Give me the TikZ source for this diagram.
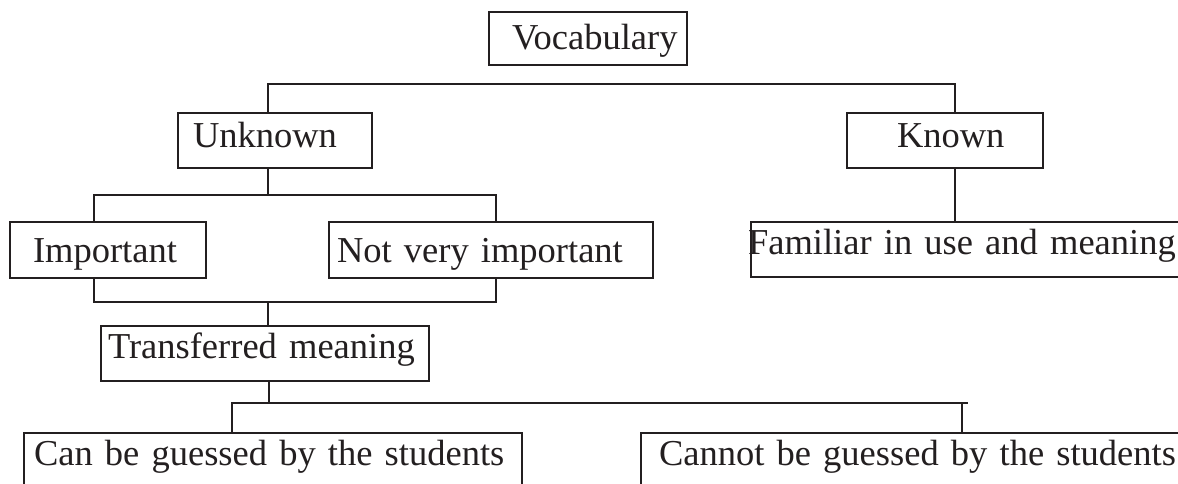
\documentclass[tikz,border=0pt]{standalone}
\usepackage{fontspec}
\setmainfont{Liberation Serif}
\usepackage{tikz}
\definecolor{ink}{RGB}{35,31,32}

\begin{document}
\begin{tikzpicture}[x=1pt, y=-1pt, line width=2.8pt, ink,
    box/.style={draw, rectangle, anchor=north west, inner sep=0pt, outer sep=0pt,
        align=left, font=\fontsize{36.5}{40}\selectfont}]
    \useasboundingbox (0,0) rectangle (1178,484);
    \clip (0,0) rectangle (1178,484);

    \node[box, text width=198pt, text height=38pt, text depth=15pt] (vocab) at (489,12) {\hspace*{23pt}Vocabulary};
    \node[box, text width=194pt, text height=35pt, text depth=20pt] (unknown) at (178,113) {\hspace*{15pt}Unknown};
    \node[box, text width=196pt, text height=34pt, text depth=21pt] (known) at (847,113) {\hspace*{50pt}Known};
    \node[box, text width=196pt, text height=40pt, text depth=16pt] (important) at (10,222) {\hspace*{23pt}Important};
    \node[box, text width=324pt, text height=40pt, text depth=16pt] (notvery) at (329,222) {\hspace*{8pt}Not very important};
    \node[box, text width=500pt, text height=32pt, text depth=23pt] (familiar) at (751,222) {\hspace*{-3pt}Familiar in use and meaning};
    \node[box, text width=328pt, text height=32pt, text depth=23pt] (transferred) at (101,326) {\hspace*{7pt}Transferred meaning};
    \node[box, text width=498pt, text height=32pt, text depth=40pt] (guessed) at (24,433) {\hspace*{10pt}Can be guessed by the students};
    \node[box, text width=600pt, text height=32pt, text depth=40pt] (notguessed) at (641,433) {\hspace*{18pt}Cannot be guessed by the students};

    % junction points of the bars
    \coordinate (t1) at (268,84);
    \coordinate (t2) at (955,84);
    \coordinate (u) at (268,195);
    \coordinate (a1) at (94,195);
    \coordinate (a2) at (496,195);
    \coordinate (b) at (268,302);
    \coordinate (b1) at (94,302);
    \coordinate (b2) at (496,302);
    \coordinate (c) at (269,403);
    \coordinate (c1) at (232,403);
    \coordinate (c2) at (962,403);
    \coordinate (c3) at (968,403);

    \draw (unknown.north -| t1) -- (t1) -- (t2) -- (known.north -| t2);
    \draw (known.south -| t2) -- (familiar.north -| t2);
    \draw (unknown.south -| u) -- (u);
    \draw (important.north -| a1) -- (a1) -- (a2) -- (notvery.north -| a2);
    \draw (important.south -| b1) -- (b1) -- (b2) -- (notvery.south -| b2);
    \draw (b) -- (transferred.north -| b);
    \draw (transferred.south -| c) -- (c);
    \draw (guessed.north -| c1) -- (c1) -- (c3);
    \draw (c2) -- (notguessed.north -| c2);
\end{tikzpicture}
\end{document}
